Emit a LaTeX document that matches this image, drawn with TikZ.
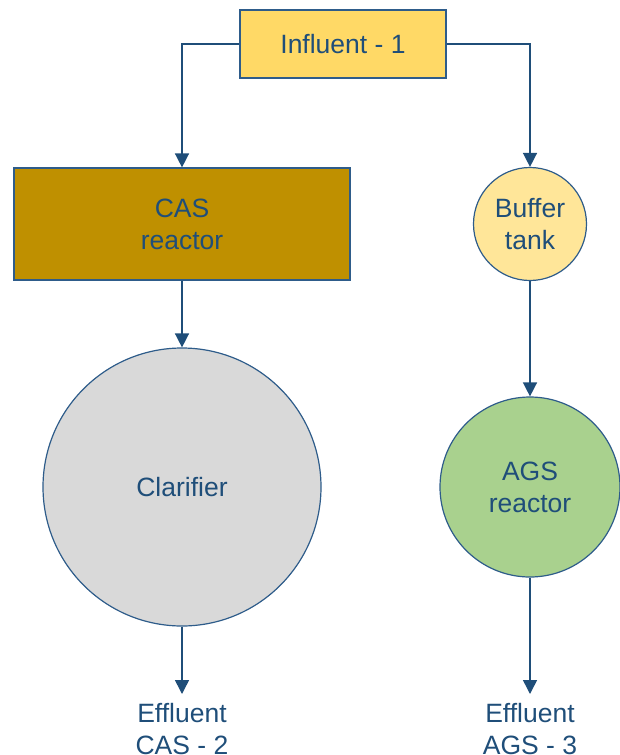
\documentclass[tikz,border=0pt]{standalone}
\usepackage{fontspec}
\setmainfont{Liberation Sans}
\usetikzlibrary{arrows.meta, positioning, calc, shapes}

\definecolor{linecol}{HTML}{1F4E79}
\definecolor{bordcol}{HTML}{2E5C8A}
\definecolor{inffill}{HTML}{FFD966}
\definecolor{casfill}{HTML}{BF9000}
\definecolor{buffill}{HTML}{FFE699}
\definecolor{clafill}{HTML}{D9D9D9}
\definecolor{agsfill}{HTML}{A9D18E}

\begin{document}
\begin{tikzpicture}[x=1pt,y=-1pt,
        txt/.style={text=linecol,align=center,font=\fontsize{26.5}{32}\selectfont},
        unit/.style={txt,draw=bordcol,line width=1.2pt,inner sep=0pt},
        tank/.style={unit,circle},
        flow/.style={draw=linecol,line width=1.5pt,-{Triangle[length=14pt,width=14pt]}}]
            \useasboundingbox (0,0) rectangle (620,755);

            % feed and left line
            \node[unit,fill=inffill,minimum width=206pt,minimum height=68pt] (inf) at (343,44) {Influent - 1};
            \node[unit,fill=casfill,minimum width=336pt,minimum height=112pt] (cas) at (182,224) {CAS\\reactor};
            \node[tank,fill=clafill,minimum size=278pt] (cla) at (182,487) {Clarifier};

            % right line
            \node[tank,fill=buffill,minimum size=113pt] (buf) at (530,224) {Buffer\\tank};
            \node[tank,fill=agsfill,minimum size=180pt] (ags) at (530,487) {AGS\\reactor};

            % effluents
            \node[txt,anchor=north,inner xsep=0pt,inner ysep=9pt] (effcas) at (182,694) {Effluent\\CAS - 2};
            \node[txt,anchor=north,inner xsep=0pt,inner ysep=9pt] (effags) at (530,694) {Effluent\\AGS - 3};

            \draw[flow] (inf.west) -| (cas.north);
            \draw[flow] (inf.east) -| (buf.north);
            \draw[flow] (cas.south) -- (cla.north);
            \draw[flow] (buf.south) -- (ags.north);
            \draw[flow] (cla.south) -- (effcas.north);
            \draw[flow] (ags.south) -- (effags.north);
\end{tikzpicture}
\end{document}
